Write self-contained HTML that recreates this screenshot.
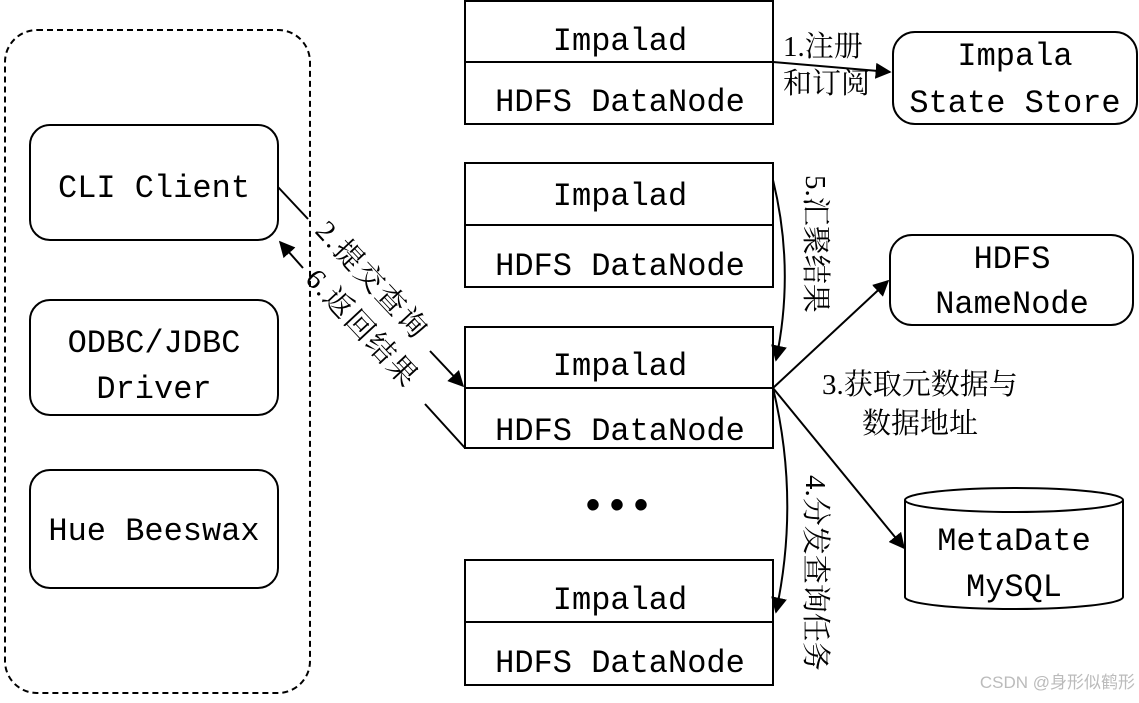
<!DOCTYPE html>
<html><head><meta charset="utf-8"><style>
body{margin:0;background:#fff;}
svg text{font-family:"Liberation Mono","Noto Serif CJK SC",monospace;fill:#000;}
.c{font-family:"Liberation Serif","Noto Serif CJK SC",serif !important;}
</style></head><body>
<svg width="1139" height="698" viewBox="0 0 1139 698" xmlns="http://www.w3.org/2000/svg">
<defs><marker id="a" viewBox="0 0 10 10" refX="9" refY="5" markerWidth="8" markerHeight="8" orient="auto-start-reverse"><path d="M0,0 L10,5 L0,10 z" fill="#000"/></marker></defs>
<g fill="none" stroke="#000" stroke-width="2">
<rect x="5" y="30" width="305" height="663" rx="32" stroke-dasharray="6,4"/>
<rect x="30" y="125" width="248" height="115" rx="20"/>
<rect x="30" y="300" width="248" height="115" rx="20"/>
<rect x="30" y="470" width="248" height="118" rx="20"/>
<rect x="465" y="1" width="308" height="123"/><line x1="465" y1="62" x2="773" y2="62"/>
<rect x="465" y="163" width="308" height="124"/><line x1="465" y1="225" x2="773" y2="225"/>
<rect x="465" y="327" width="308" height="121"/><line x1="465" y1="388" x2="773" y2="388"/>
<rect x="465" y="560" width="308" height="125"/><line x1="465" y1="622" x2="773" y2="622"/>
<rect x="893" y="32" width="244" height="92" rx="22"/>
<rect x="890" y="235" width="243" height="90" rx="22"/>
<path d="M905,500 V597 A109,12 0 0 0 1123,597 V500"/>
<ellipse cx="1014" cy="500" rx="109" ry="12"/>
<line x1="278" y1="187" x2="308" y2="219"/>
<line x1="430" y1="351" x2="463" y2="386" marker-end="url(#a)"/>
<line x1="465" y1="448" x2="425" y2="404"/>
<line x1="303" y1="268" x2="280" y2="242" marker-end="url(#a)"/>
<line x1="773" y1="62" x2="890" y2="72" marker-end="url(#a)"/>
<path d="M773,180 Q795,270 776,360" marker-end="url(#a)"/>
<line x1="773" y1="388" x2="888" y2="281" marker-end="url(#a)"/>
<line x1="773" y1="388" x2="904" y2="548" marker-end="url(#a)"/>
<path d="M773,388 Q800,500 776,612" marker-end="url(#a)"/>
</g>
<g font-size="32" text-anchor="middle">
<text x="154" y="197">CLI Client</text>
<text x="154" y="352">ODBC/JDBC</text>
<text x="154" y="398">Driver</text>
<text x="154" y="540">Hue Beeswax</text>
<text x="620" y="50">Impalad</text><text x="620" y="111">HDFS DataNode</text>
<text x="620" y="205">Impalad</text><text x="620" y="275">HDFS DataNode</text>
<text x="620" y="375">Impalad</text><text x="620" y="440">HDFS DataNode</text>
<text x="620" y="609">Impalad</text><text x="620" y="672">HDFS DataNode</text>
<text x="1015" y="65">Impala</text><text x="1015" y="112">State Store</text>
<text x="1012" y="268">HDFS</text><text x="1012" y="313">NameNode</text>
<text x="1014" y="550">MetaDate</text><text x="1014" y="596">MySQL</text>
</g>
<text x="617" y="518" font-size="40" text-anchor="middle" font-weight="bold">•••</text>
<g font-size="29" class="c">
<text x="783" y="56" class="c">1.注册</text>
<text x="783" y="93" class="c">和订阅</text>
<text x="822" y="394" class="c">3.获取元数据与</text>
<text x="862" y="433" class="c">数据地址</text>
<text transform="translate(314,232) rotate(47)" class="c" letter-spacing="2">2.提交查询</text>
<text transform="translate(304,280) rotate(47)" class="c" letter-spacing="2">6.返回结果</text>
<text transform="translate(806,175) rotate(90)" class="c">5.汇聚结果</text>
<text transform="translate(806,475) rotate(90)" class="c">4.分发查询任务</text>
</g>
<text x="1135" y="688" font-size="17" text-anchor="end" style="fill:#bbb;font-family:'Liberation Sans','Noto Sans CJK SC',sans-serif">CSDN @身形似鹤形</text>
</svg>
</body></html>
